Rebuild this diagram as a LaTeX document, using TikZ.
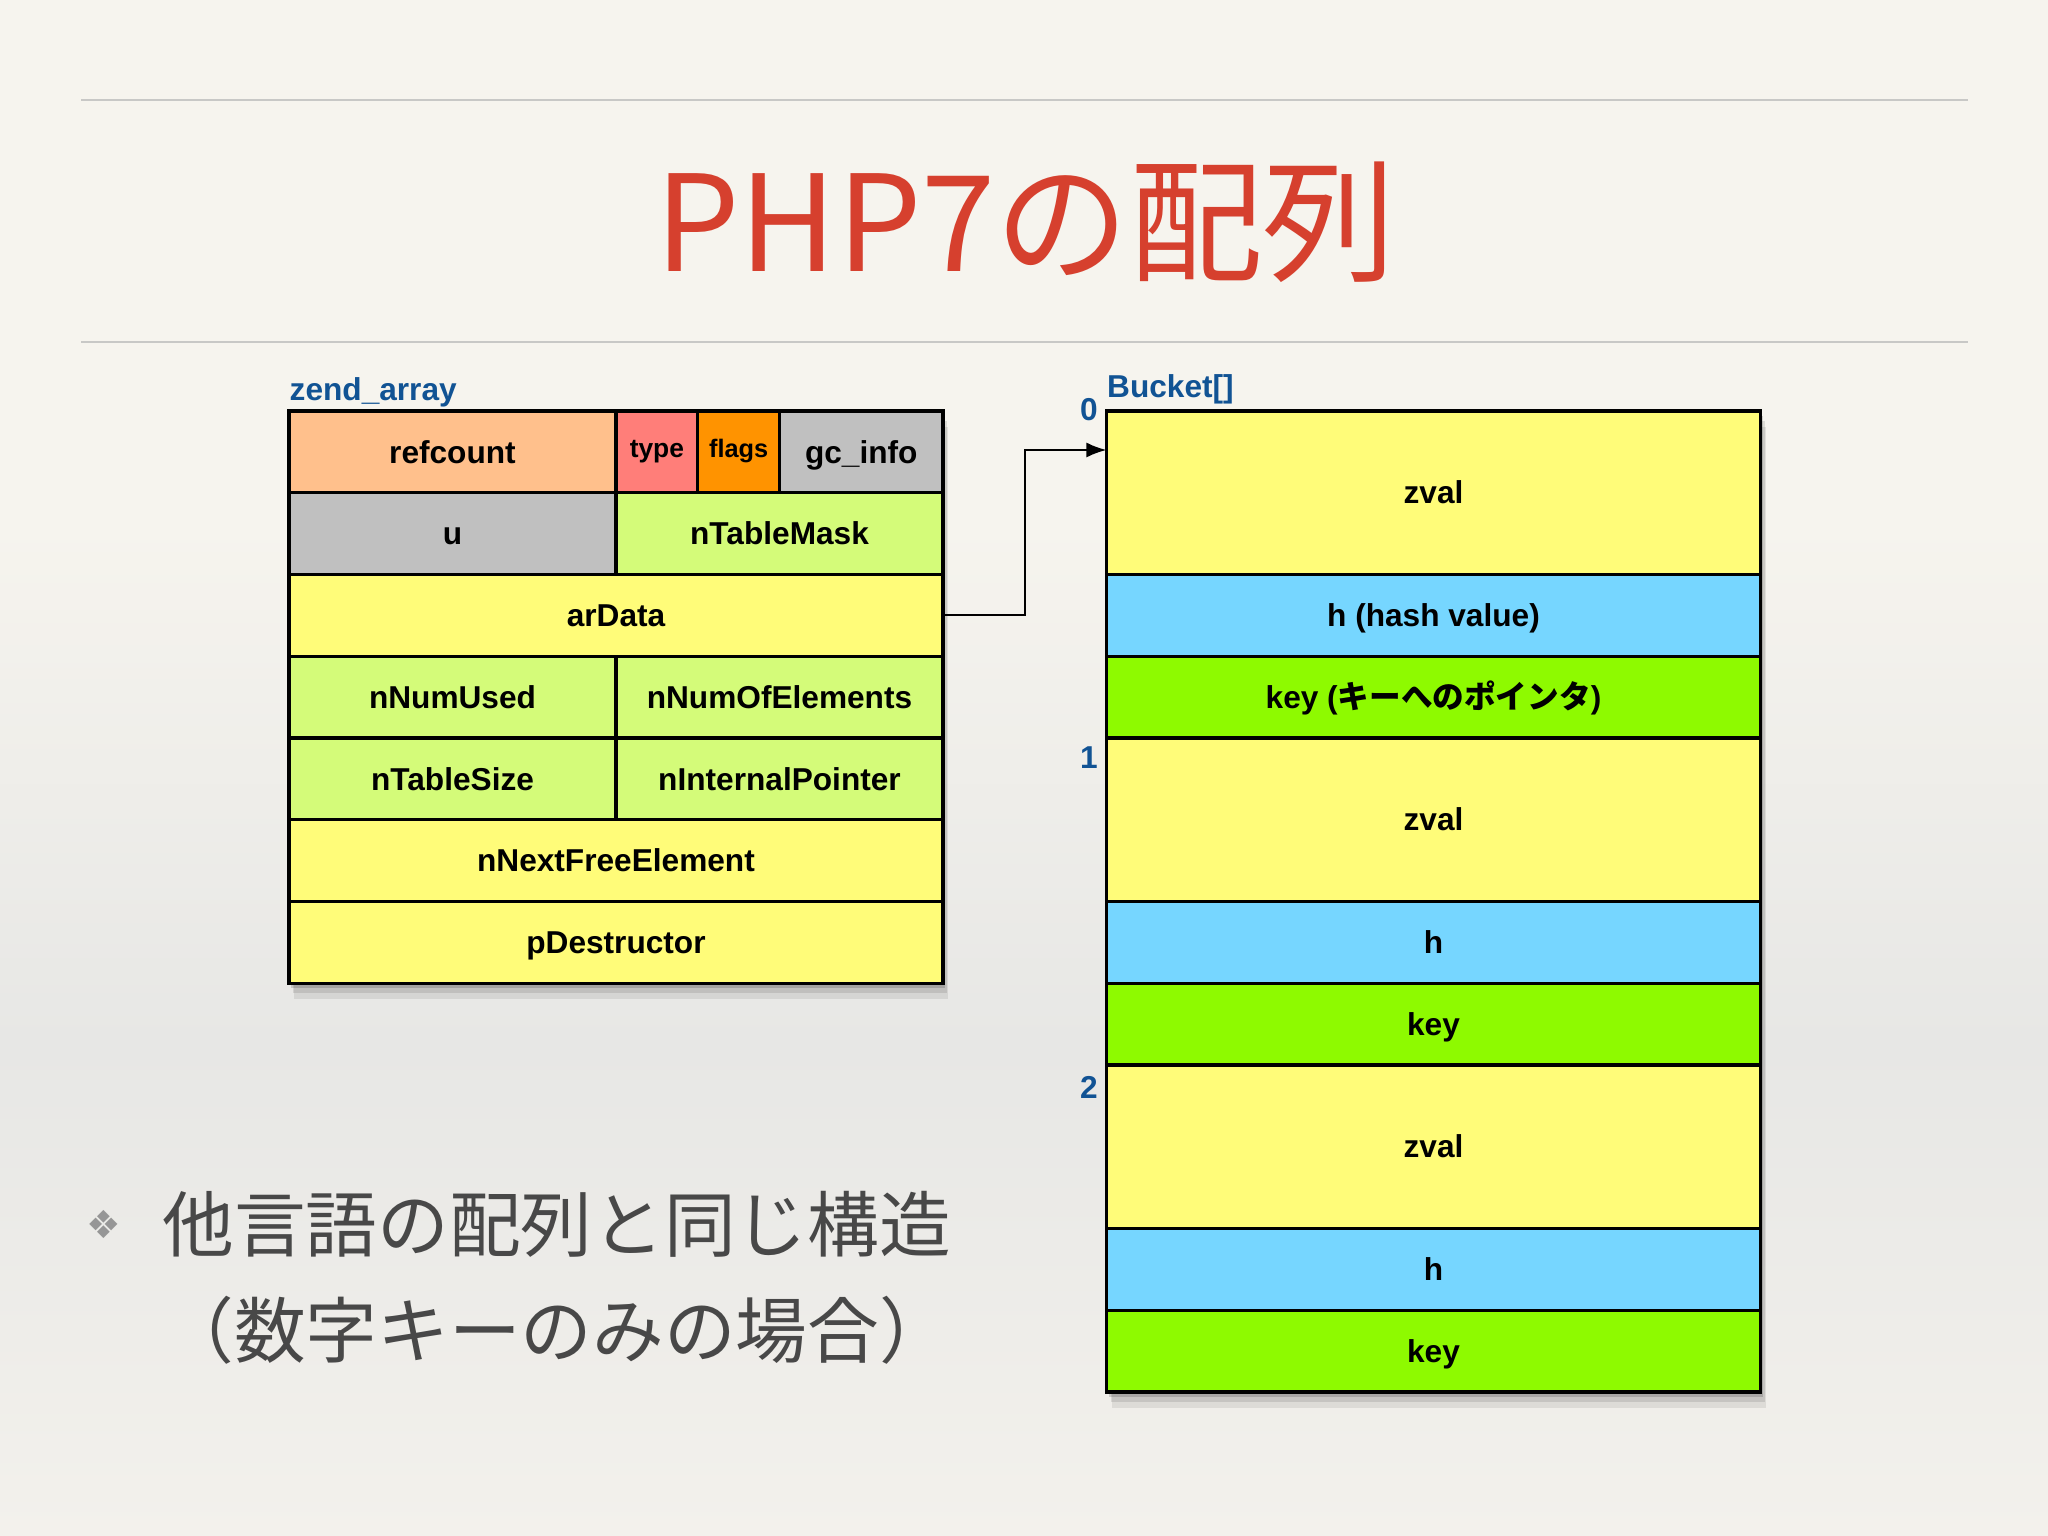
\documentclass[tikz,border=0pt]{standalone}
\usepackage{fontspec}
\setmainfont{Liberation Sans}
\newfontfamily\jpfont{Noto Sans CJK JP}
\newfontfamily\symfont{DejaVu Sans}
\usetikzlibrary{positioning, arrows.meta, backgrounds}

\definecolor{peach}{RGB}{255,192,140}
\definecolor{salmon}{RGB}{255,126,121}
\definecolor{tangerine}{RGB}{255,147,0}
\definecolor{silver}{RGB}{192,192,192}
\definecolor{honeydew}{RGB}{212,251,121}
\definecolor{banana}{RGB}{255,252,121}
\definecolor{sky}{RGB}{118,214,255}
\definecolor{lime}{RGB}{142,250,0}
\definecolor{labelblue}{RGB}{17,83,148}
\definecolor{titlered}{RGB}{214,64,46}
\definecolor{bodygray}{RGB}{72,72,72}
\definecolor{bulletgray}{RGB}{150,150,150}
\definecolor{rulegray}{RGB}{200,200,198}
\definecolor{bgtop}{RGB}{246,244,238}
\definecolor{bgmid}{RGB}{231,231,229}
\definecolor{bgbot}{RGB}{243,241,236}

\pgfdeclareverticalshading{slidebg}{100bp}{color(0bp)=(bgbot); color(25bp)=(bgbot);
  color(41bp)=(bgmid); color(58bp)=(bgtop); color(100bp)=(bgtop)}

\begin{document}
\begin{tikzpicture}[
  >=Latex,
  node distance=0pt,
  cell/.style={draw, line width=0.9pt, inner sep=0pt, outer sep=0pt, minimum height=8.175mm,
    text height=0.82em, text depth=0.18em, font=\bfseries\fontsize{9}{11}\selectfont},
  small/.style={cell, minimum width=8.175mm, text height=0.67em, text depth=0.33em},
  half/.style={cell, minimum width=32.7mm},
  wide/.style={cell, minimum width=65.4mm},
  slot/.style={cell, minimum width=65.4mm, minimum height=16.35mm},
  tag/.style={inner sep=0pt, text=labelblue, font=\bfseries\fontsize{9}{11}\selectfont},
  rule/.style={draw=rulegray, line width=0.6pt},
  line/.style={->, line width=0.6pt}
]
\useasboundingbox (0,0) rectangle (20.48,-15.36);
\begin{scope}[on background layer]
  \shade[shading=slidebg] (0,0) rectangle (20.48,-15.36);
\end{scope}

% Title
\draw[rule] (0.81,-1.00) -- (19.68,-1.00);
\node[anchor=base, text=titlered, font=\jpfont\fontsize{38}{40}\selectfont] (title) at (10.26,-2.72) {PHP7の配列};
\draw[rule] (0.81,-3.42) -- (19.68,-3.42);

% zend_array
\node[half, fill=peach, anchor=north west] (refcount) at (2.89,-4.11) {refcount};
\node[small, fill=salmon, right=of refcount, font=\bfseries\fontsize{7.5}{9}\selectfont] (type) {type};
\node[small, fill=tangerine, right=of type, font=\bfseries\fontsize{7.2}{9}\selectfont] (flags) {flags};
\node[cell, fill=silver, minimum width=16.35mm, right=of flags] (gcinfo) {gc\_info};
\node[half, fill=silver, below=of refcount] (u) {u};
\node[half, fill=honeydew, right=of u] (tableMask) {nTableMask};
\node[wide, fill=banana, below=of u.south east] (arData) {arData};
\node[half, fill=honeydew, below right=of arData.south west] (numUsed) {nNumUsed};
\node[half, fill=honeydew, right=of numUsed] (numElements) {nNumOfElements};
\node[half, fill=honeydew, below=of numUsed] (tableSize) {nTableSize};
\node[half, fill=honeydew, right=of tableSize] (internalPtr) {nInternalPointer};
\node[wide, fill=banana, below=of tableSize.south east] (nextFree) {nNextFreeElement};
\node[wide, fill=banana, below=of nextFree] (destructor) {pDestructor};
\node[tag, anchor=base west] (zendLabel) at ([yshift=1mm]refcount.north west) {zend\_array};

% Bucket[]
\node[slot, fill=banana, right=16.35mm of gcinfo.north east, anchor=north west] (zval0) {zval};
\node[wide, fill=sky, below=of zval0] (h0) {h (hash value)};
\node[wide, fill=lime, below=of h0] (key0) {key ({\jpfont\bfseries キーへのポインタ})};
\node[slot, fill=banana, below=of key0] (zval1) {zval};
\node[wide, fill=sky, below=of zval1] (h1) {h};
\node[wide, fill=lime, below=of h1] (key1) {key};
\node[slot, fill=banana, below=of key1] (zval2) {zval};
\node[wide, fill=sky, below=of zval2] (h2) {h};
\node[wide, fill=lime, below=of h2] (key2) {key};
\node[tag, anchor=base west] (bucketLabel) at ([yshift=1.3mm]zval0.north west) {Bucket[]};
\node[tag, left=0.8mm of zval0.north west, yshift=0.1mm] (idx0) {0};
\node[tag, left=0.8mm of zval1.north west, yshift=-2.0mm] (idx1) {1};
\node[tag, left=0.8mm of zval2.north west, yshift=-2.2mm] (idx2) {2};

% arData -> Bucket
\draw[line] (arData.east) -- ++(8.2mm,0) |- ([yshift=-3.9mm]zval0.north west);

% shadows
\begin{scope}[on background layer]
  \fill[black, opacity=0.08] ([xshift=0.5mm, yshift=-1.6mm]refcount.north west) rectangle ([xshift=0.5mm, yshift=-1.6mm]destructor.south east);
  \fill[black, opacity=0.10] ([xshift=0.4mm, yshift=-1.0mm]refcount.north west) rectangle ([xshift=0.4mm, yshift=-1.0mm]destructor.south east);
  \fill[black, opacity=0.15] ([xshift=0.2mm, yshift=-0.5mm]refcount.north west) rectangle ([xshift=0.2mm, yshift=-0.5mm]destructor.south east);
  \fill[black, opacity=0.08] ([xshift=0.5mm, yshift=-1.6mm]zval0.north west) rectangle ([xshift=0.5mm, yshift=-1.6mm]key2.south east);
  \fill[black, opacity=0.10] ([xshift=0.4mm, yshift=-1.0mm]zval0.north west) rectangle ([xshift=0.4mm, yshift=-1.0mm]key2.south east);
  \fill[black, opacity=0.15] ([xshift=0.2mm, yshift=-0.5mm]zval0.north west) rectangle ([xshift=0.2mm, yshift=-0.5mm]key2.south east);
\end{scope}

% Bullet text
\node[text=bulletgray, font=\symfont\fontsize{11}{11}\selectfont] (bullet) at (1.04,-12.24) {❖};
\node[anchor=base west, text=bodygray, font=\jpfont\fontsize{20.4}{30}\selectfont] (point1) at (1.50,-12.51) {他言語の配列と同じ構造};
\node[anchor=base west, text=bodygray, font=\jpfont\fontsize{20.4}{30}\selectfont] (point2) at (1.50,-13.57) {（数字キーのみの場合）};

\end{tikzpicture}
\end{document}
